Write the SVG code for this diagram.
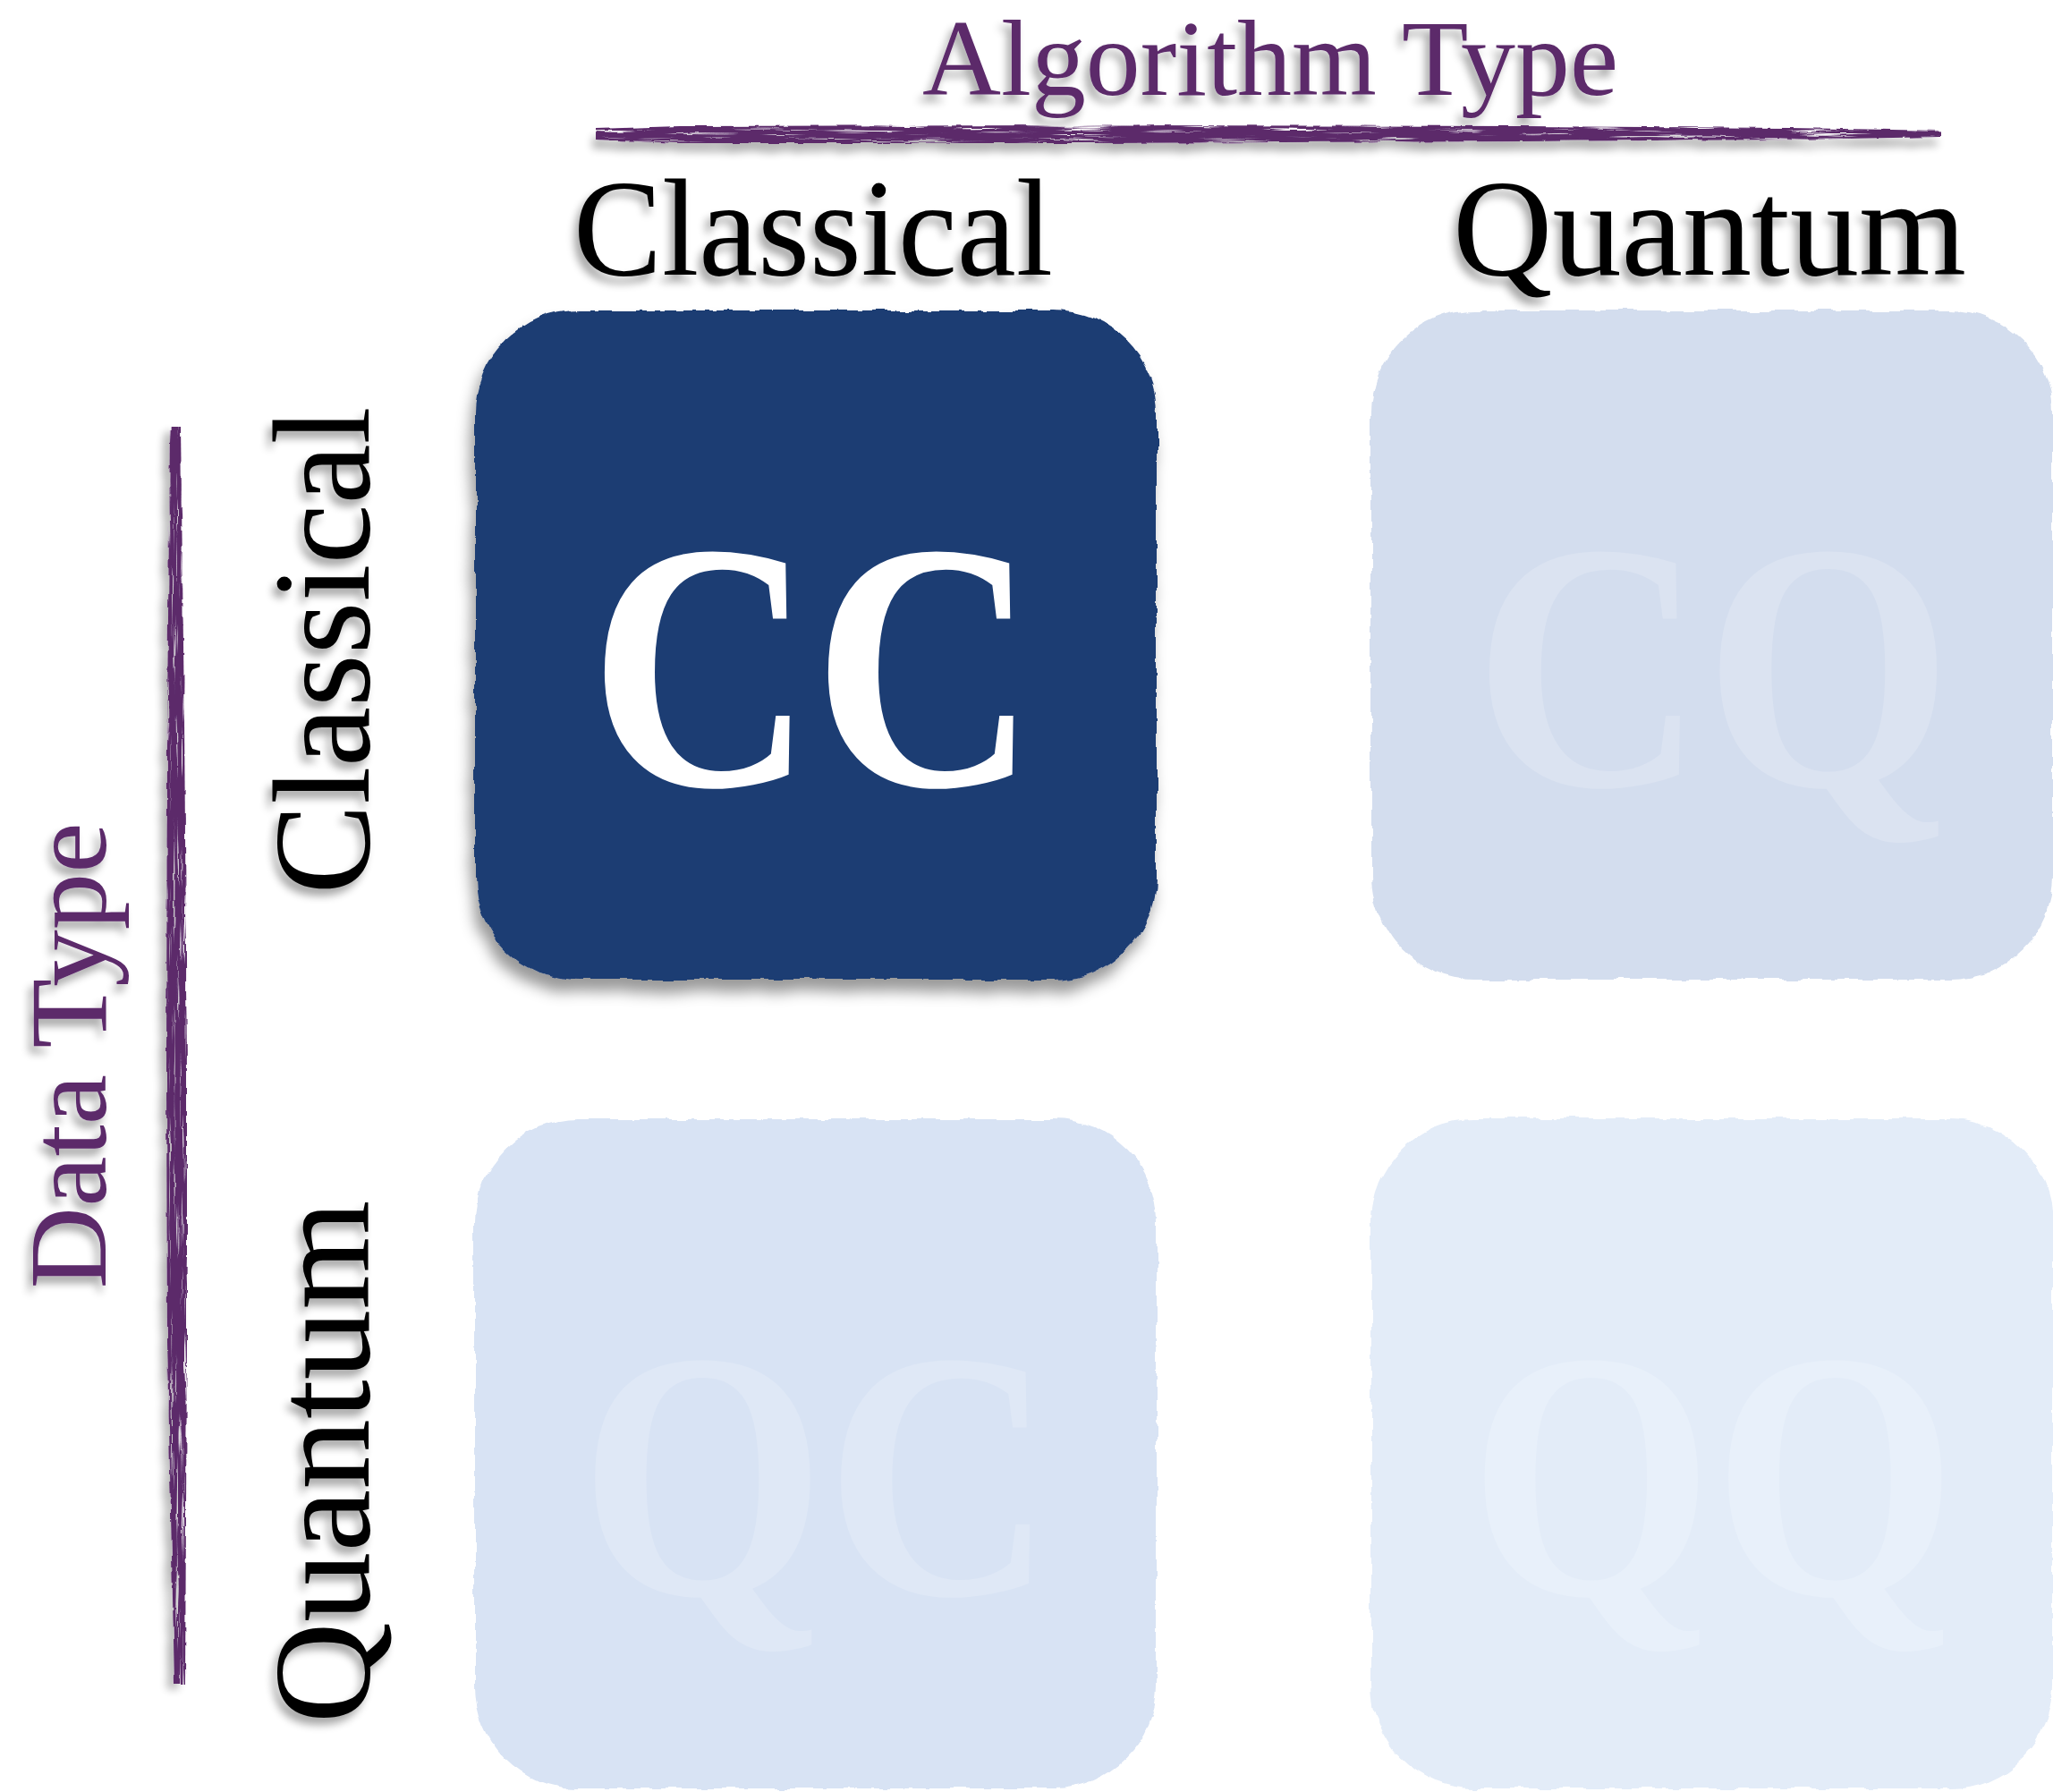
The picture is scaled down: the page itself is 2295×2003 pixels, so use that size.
<svg xmlns="http://www.w3.org/2000/svg" width="2295" height="2003" viewBox="0 0 2295 2003">
<style>
.title{font-family:"Liberation Serif","Times New Roman",serif;fill:#5b2a6b}
.hdr{font-family:"Liberation Serif","Times New Roman",serif;fill:#000;font-size:155px}
.big{font-family:"Liberation Serif","Times New Roman",serif;font-weight:bold;font-size:395px;text-anchor:middle}
</style>
<defs>
<filter id="txtShadow" x="-10%" y="-20%" width="120%" height="150%">
<feGaussianBlur in="SourceAlpha" stdDeviation="5"/>
<feOffset dx="-5" dy="8" result="b"/>
<feComponentTransfer in="b" result="s"><feFuncA type="linear" slope="0.35"/></feComponentTransfer>
<feMerge><feMergeNode in="s"/><feMergeNode in="SourceGraphic"/></feMerge>
</filter>
<filter id="rough" x="-5%" y="-5%" width="110%" height="110%">
<feTurbulence type="fractalNoise" baseFrequency="0.035" numOctaves="3" seed="4" result="n"/>
<feDisplacementMap in="SourceGraphic" in2="n" scale="9" xChannelSelector="R" yChannelSelector="G"/>
</filter>
<filter id="roughShadow" x="-6%" y="-6%" width="112%" height="114%">
<feTurbulence type="fractalNoise" baseFrequency="0.035" numOctaves="3" seed="7" result="n"/>
<feDisplacementMap in="SourceGraphic" in2="n" scale="9" xChannelSelector="R" yChannelSelector="G" result="d"/>
<feGaussianBlur in="d" stdDeviation="8"/>
<feOffset dx="-5" dy="14" result="b"/>
<feFlood flood-color="#000" flood-opacity="0.4"/>
<feComposite in2="b" operator="in" result="s"/>
<feMerge><feMergeNode in="s"/><feMergeNode in="d"/></feMerge>
</filter>
<filter id="brushH" x="-2%" y="-200%" width="104%" height="500%">
<feTurbulence type="fractalNoise" baseFrequency="0.012 0.35" numOctaves="2" seed="2" result="t"/>
<feColorMatrix in="t" type="matrix" values="0 0 0 0 0 0 0 0 0 0 0 0 0 0 0 6 0 0 0 -1.5" result="m"/>
<feComposite in="SourceGraphic" in2="m" operator="in" result="c"/>
<feTurbulence type="fractalNoise" baseFrequency="0.06" numOctaves="2" seed="9" result="n2"/>
<feDisplacementMap in="c" in2="n2" scale="4" xChannelSelector="R" yChannelSelector="G" result="d"/>
<feGaussianBlur in="d" stdDeviation="5"/>
<feOffset dx="-4" dy="10" result="bl"/>
<feComponentTransfer in="bl" result="sh"><feFuncR type="linear" slope="0"/><feFuncG type="linear" slope="0"/><feFuncB type="linear" slope="0"/><feFuncA type="linear" slope="0.3"/></feComponentTransfer>
<feMerge><feMergeNode in="sh"/><feMergeNode in="d"/></feMerge>
</filter>
<filter id="brushV" x="-300%" y="-2%" width="700%" height="104%">
<feTurbulence type="fractalNoise" baseFrequency="0.35 0.012" numOctaves="2" seed="3" result="t"/>
<feColorMatrix in="t" type="matrix" values="0 0 0 0 0 0 0 0 0 0 0 0 0 0 0 6 0 0 0 -1.5" result="m"/>
<feComposite in="SourceGraphic" in2="m" operator="in" result="c"/>
<feTurbulence type="fractalNoise" baseFrequency="0.06" numOctaves="2" seed="11" result="n2"/>
<feDisplacementMap in="c" in2="n2" scale="4" xChannelSelector="R" yChannelSelector="G" result="d"/>
<feGaussianBlur in="d" stdDeviation="5"/>
<feOffset dx="-7" dy="6" result="bl"/>
<feComponentTransfer in="bl" result="sh"><feFuncR type="linear" slope="0"/><feFuncG type="linear" slope="0"/><feFuncB type="linear" slope="0"/><feFuncA type="linear" slope="0.3"/></feComponentTransfer>
<feMerge><feMergeNode in="sh"/><feMergeNode in="d"/></feMerge>
</filter>
</defs>
<rect width="2295" height="2003" fill="#fff"/>

<g id="axis-algorithm">
<text class="title" x="1420" y="106" font-size="120" text-anchor="middle" filter="url(#txtShadow)" textLength="778" lengthAdjust="spacingAndGlyphs">Algorithm Type</text>
</g>
<g id="axis-data" filter="url(#txtShadow)">
<text class="title" transform="translate(118,1180) rotate(-90)" font-size="122" text-anchor="middle" textLength="521" lengthAdjust="spacingAndGlyphs">Data Type</text>
</g>

<g id="connectors">
<path d="M666,144 L760,141 L1200,140 L1700,141 L2000,143 L2170,146 L2170,153 L2000,156 L1700,158 L1200,160 L760,160 L666,156 Z" fill="#5b2a6b" filter="url(#brushH)"/>
<path d="M190,477 L202,477 L206,800 L209,1200 L209,1500 L207,1882 L195,1882 L187,1500 L186,1200 L187,800 Z" fill="#5b2a6b" filter="url(#brushV)"/>
</g>

<g id="col-classical"><text class="hdr" x="909" y="307" text-anchor="middle" filter="url(#txtShadow)" textLength="536" lengthAdjust="spacingAndGlyphs">Classical</text></g>
<g id="col-quantum"><text class="hdr" x="1911" y="307" text-anchor="middle" filter="url(#txtShadow)" textLength="574" lengthAdjust="spacingAndGlyphs">Quantum</text></g>
<g id="row-classical" filter="url(#txtShadow)"><text class="hdr" transform="translate(412,727) rotate(-90)" text-anchor="middle" textLength="545" lengthAdjust="spacingAndGlyphs">Classical</text></g>
<g id="row-quantum" filter="url(#txtShadow)"><text class="hdr" transform="translate(412,1634) rotate(-90)" text-anchor="middle" textLength="585" lengthAdjust="spacingAndGlyphs">Quantum</text></g>

<g id="node-cc">
<rect x="531" y="347" width="762" height="748" rx="115" fill="#1f3d73" filter="url(#roughShadow)"/>
<text class="big" x="909" y="878" fill="#ffffff" textLength="500" lengthAdjust="spacingAndGlyphs">CC</text>
</g>
<g id="node-cq">
<rect x="1533" y="347" width="762" height="748" rx="115" fill="#d3ddee" filter="url(#rough)"/>
<text class="big" x="1915" y="878" fill="#dbe3f1" textLength="535" lengthAdjust="spacingAndGlyphs">CQ</text>
</g>
<g id="node-qc">
<rect x="531" y="1251" width="762" height="748" rx="115" fill="#d8e3f4" filter="url(#rough)"/>
<text class="big" x="913" y="1782" fill="#dfe8f6" textLength="530" lengthAdjust="spacingAndGlyphs">QC</text>
</g>
<g id="node-qq">
<rect x="1533" y="1251" width="762" height="748" rx="115" fill="#e3ecf8" filter="url(#rough)"/>
<text class="big" x="1915" y="1782" fill="#e8f0fa" textLength="545" lengthAdjust="spacingAndGlyphs">QQ</text>
</g>
</svg>
